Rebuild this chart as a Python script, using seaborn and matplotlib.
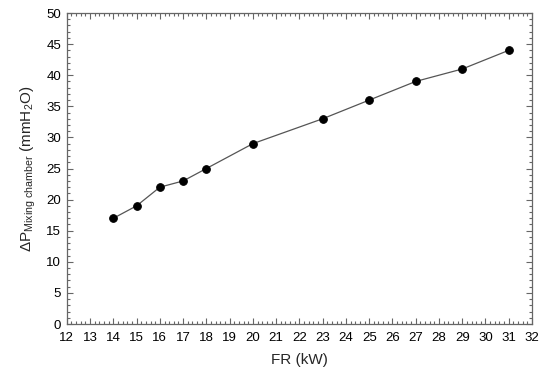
import matplotlib

matplotlib.use("Agg")
import matplotlib.pyplot as plt
import pandas as pd
import seaborn as sns
from matplotlib.ticker import MultipleLocator

fr_kw = [14, 15, 16, 17, 18, 20, 23, 25, 27, 29, 31]
dp_mixing = [17, 19, 22, 23, 25, 29, 33, 36, 39, 41, 44]

df = pd.DataFrame({"FR": fr_kw, "dP": dp_mixing})

sns.set_theme(style="ticks")
plt.rcParams["font.family"] = ["Liberation Sans", "DejaVu Sans"]
plt.rcParams["mathtext.fontset"] = "custom"
plt.rcParams["mathtext.rm"] = "Liberation Sans"
plt.rcParams["mathtext.it"] = "Liberation Sans:italic"

fig = plt.figure(figsize=(5.39, 3.72), dpi=100)
ax = fig.add_axes([0.124, 0.129, 0.863, 0.836])

sns.lineplot(data=df, x="FR", y="dP", ax=ax, color="#555555", linewidth=0.9,
             marker="o", markersize=5.5, markerfacecolor="black",
             markeredgecolor="black")

ax.set_xlim(12, 32)
ax.set_ylim(0, 50)
ax.xaxis.set_major_locator(MultipleLocator(1))
ax.xaxis.set_minor_locator(MultipleLocator(0.2))
ax.yaxis.set_major_locator(MultipleLocator(5))
ax.yaxis.set_minor_locator(MultipleLocator(1))
ax.tick_params(which="both", direction="in", top=True, right=True,
               colors="#666666", labelcolor="black", labelsize=9.5, width=0.8)
ax.tick_params(which="major", length=4)
ax.tick_params(axis="x", which="major", pad=6)
ax.tick_params(axis="y", which="major", pad=4)
ax.tick_params(which="minor", length=2)
for s in ax.spines.values():
    s.set_color("#666666")
    s.set_linewidth(0.9)

ax.set_xlabel("FR (kW)", fontsize=11, labelpad=6)
ax.set_ylabel(r"$\Delta$P$_{\mathrm{Mixing\ chamber}}$ (mmH$_{\mathrm{2}}$O)",
              fontsize=11, labelpad=6)

fig.savefig("out.png", dpi=100)
